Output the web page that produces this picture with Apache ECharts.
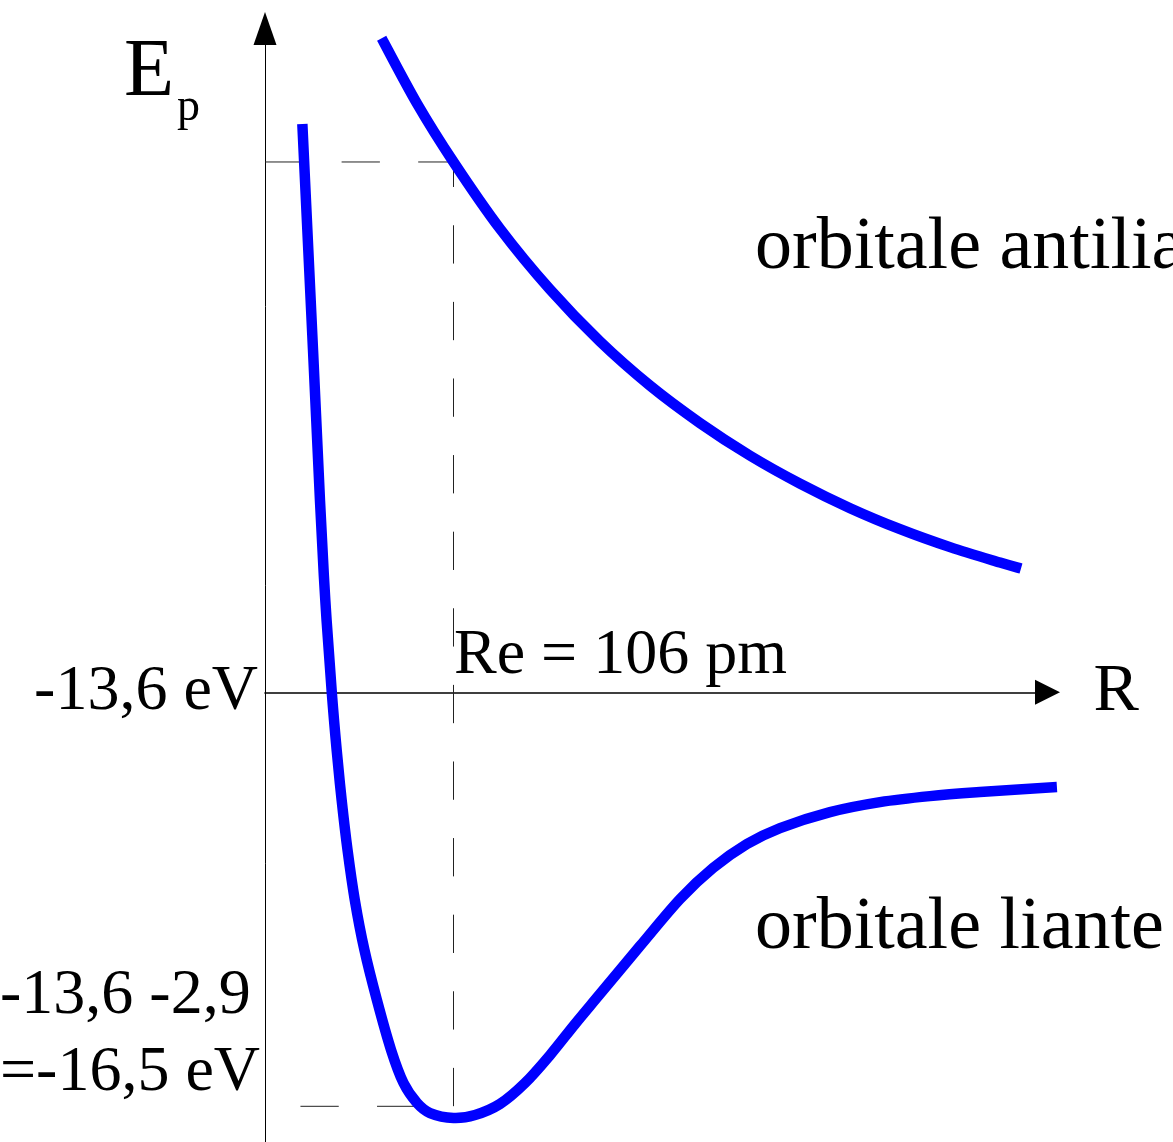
<!DOCTYPE html>
<html>
<head>
<meta charset="utf-8">
<title>Orbitali molecolari H2+</title>
<script src="https://cdn.jsdelivr.net/npm/echarts@6/dist/echarts.min.js"></script>
<style>
  html, body { margin: 0; padding: 0; background: #fff; }
  #chart { width: 1173px; height: 1142px; }
</style>
</head>
<body>
<div id="chart"></div>
<script>
// Internuclear distance R in pm, energy relative to the separated atoms in eV
const RE = 106;             // equilibrium distance (pm)
const E_ATOM = -13.6;       // energy of the isolated atom (eV)
const DELTA_E = -2.9;       // well depth of the bonding orbital (eV)
const E_ANTI_AT_RE = 3.715; // antibonding level at RE (eV, relative)

// Bonding orbital curve
const bondR = [21.0, 27.0, 30.9, 33.9, 37.5, 40.3, 43.1, 46.4, 50.5, 55.9, 62.9, 70.9, 77.9, 85.5, 92.8, 106.0,
               118.1, 132.1, 146.2, 160.3, 174.3, 188.4, 210.9, 233.4, 251.9, 271.0, 289.6, 317.7, 345.8, 373.9, 402.0, 445.3];
const bondE = [3.981, 2.398, 1.347, 0.647, 0.009, -0.404, -0.754, -1.104, -1.455, -1.805, -2.155, -2.506, -2.737, -2.877, -2.947, -2.982,
               -2.961, -2.884, -2.737, -2.541, -2.324, -2.113, -1.777, -1.448, -1.231, -1.063, -0.951, -0.839, -0.769, -0.727, -0.699, -0.664];

// Antibonding orbital curve
const antiR = [65.6, 85.5, 106.0, 132.1, 160.3, 188.4, 216.5, 244.6, 272.7, 300.8, 329.0, 357.1, 385.2, 413.3, 425.1];
const antiE = [4.582, 4.124, 3.715, 3.248, 2.821, 2.457, 2.148, 1.886, 1.658, 1.462, 1.290, 1.143, 1.017, 0.909, 0.867];

const labelAnti = 'orbitale antiliante';
const labelBond = 'orbitale liante';

const fmt = v => v.toFixed(1).replace('.', ',');

const SERIF = '"Liberation Serif", "DejaVu Serif", serif';
const BLUE = '#0000ff';

// Smooth Catmull-Rom path through the projected points of a curve
function splinePath(pts) {
  let d = 'M' + pts[0][0] + ',' + pts[0][1];
  for (let i = 0; i < pts.length - 1; i++) {
    const p0 = pts[i - 1] || pts[i];
    const p1 = pts[i];
    const p2 = pts[i + 1];
    const p3 = pts[i + 2] || p2;
    const c1x = p1[0] + (p2[0] - p0[0]) / 6, c1y = p1[1] + (p2[1] - p0[1]) / 6;
    const c2x = p2[0] - (p3[0] - p1[0]) / 6, c2y = p2[1] - (p3[1] - p1[1]) / 6;
    d += ' C' + c1x + ',' + c1y + ' ' + c2x + ',' + c2y + ' ' + p2[0] + ',' + p2[1];
  }
  return d;
}

function curveSeries(name, xs, ys) {
  return {
    name: name,
    type: 'custom',
    coordinateSystem: 'cartesian2d',
    data: [[xs[0], ys[0]]],
    silent: true,
    z: 3,
    renderItem: function (params, api) {
      const pts = xs.map((x, i) => api.coord([x, ys[i]]));
      return {
        type: 'path',
        shape: { pathData: splinePath(pts) },
        style: { fill: 'none', stroke: BLUE, lineWidth: 10.5, lineCap: 'butt', lineJoin: 'round' }
      };
    }
  };
}

const chart = echarts.init(document.getElementById('chart'), null, { renderer: 'canvas' });

const dashStyle = { color: '#222', width: 1, type: [38.3, 38.3] };

chart.setOption({
  animation: false,
  backgroundColor: '#fff',
  grid: { left: 265, right: 125.5, top: 28.5, bottom: 0, containLabel: false },
  xAxis: {
    type: 'value',
    min: 0,
    max: 440,
    name: 'R',
    nameLocation: 'end',
    nameGap: 46,
    nameTextStyle: { fontFamily: SERIF, fontSize: 68, color: '#000', verticalAlign: 'middle', padding: [4, 0, 0, 0] },
    axisLine: {
      onZero: true,
      symbol: ['none', 'triangle'],
      symbolSize: [25, 25],
      lineStyle: { color: '#000', width: 1.6 }
    },
    axisTick: { show: false },
    axisLabel: { show: false },
    splitLine: { show: false }
  },
  yAxis: {
    type: 'value',
    min: -3.15,
    max: 4.65,
    axisLine: {
      onZero: false,
      symbol: ['none', 'triangle'],
      symbolSize: [23, 33],
      lineStyle: { color: '#000', width: 1 }
    },
    axisTick: { show: false },
    axisLabel: {
      show: true,
      customValues: [0],
      margin: 7,
      fontFamily: SERIF,
      fontSize: 64,
      color: '#000',
      formatter: () => fmt(E_ATOM) + ' eV'
    },
    splitLine: { show: false }
  },
  series: [
    {
      name: 'livello antilegante a Re',
      type: 'line',
      data: [[0, E_ANTI_AT_RE], [RE, E_ANTI_AT_RE]],
      symbol: 'none',
      silent: true,
      lineStyle: Object.assign({}, dashStyle, { dashOffset: 0 }),
      z: 1
    },
    {
      name: 'Re e minimo',
      type: 'line',
      data: [[RE, E_ANTI_AT_RE], [RE, DELTA_E], [0, DELTA_E]],
      symbol: 'none',
      silent: true,
      lineStyle: Object.assign({}, dashStyle, { dashOffset: 13.3 }),
      z: 1
    },
    curveSeries(labelAnti, antiR, antiE),
    curveSeries(labelBond, bondR, bondE)
  ],
  graphic: [
    { type: 'text', silent: true, style: { text: 'E', x: 124, y: 73, font: '82px ' + SERIF, fill: '#000', align: 'left', verticalAlign: 'middle' } },
    { type: 'text', silent: true, style: { text: 'p', x: 177, y: 108, font: '46px ' + SERIF, fill: '#000', align: 'left', verticalAlign: 'middle' } },
    { type: 'text', silent: true, style: { text: fmt(E_ATOM) + ' ' + fmt(DELTA_E), x: 0, y: 996, font: '64px ' + SERIF, fill: '#000', align: 'left', verticalAlign: 'middle' } },
    { type: 'text', silent: true, style: { text: '=' + fmt(E_ATOM + DELTA_E) + ' eV', x: 0, y: 1073, font: '64px ' + SERIF, fill: '#000', align: 'left', verticalAlign: 'middle' } },
    { type: 'text', silent: true, style: { text: 'Re = ' + RE + ' pm', x: 454, y: 656, font: '64px ' + SERIF, fill: '#000', align: 'left', verticalAlign: 'middle' } },
    { type: 'text', silent: true, style: { text: labelAnti, x: 755, y: 249, font: '74px ' + SERIF, fill: '#000', align: 'left', verticalAlign: 'middle' } },
    { type: 'text', silent: true, style: { text: labelBond, x: 755, y: 929, font: '74px ' + SERIF, fill: '#000', align: 'left', verticalAlign: 'middle' } }
  ]
});
</script>
</body>
</html>
